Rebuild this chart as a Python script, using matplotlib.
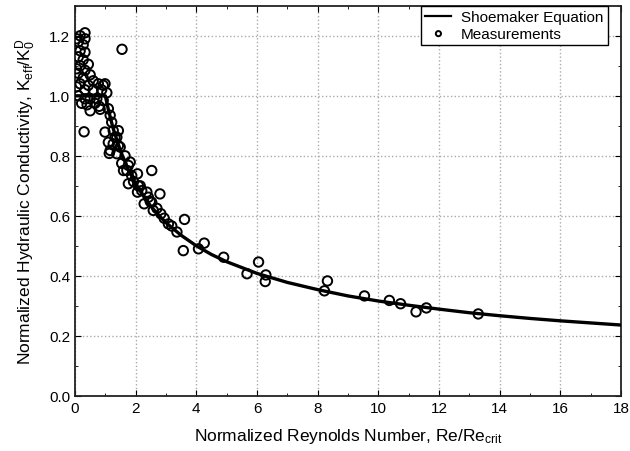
import matplotlib
matplotlib.use("Agg")
import matplotlib.pyplot as plt
from matplotlib.ticker import MultipleLocator

plt.rcParams['font.family'] = ['Liberation Sans', 'DejaVu Sans']
plt.rcParams['mathtext.default'] = 'regular'

# Shoemaker equation curve
curve_x = [0, 1.0, 1.1, 1.25, 1.5, 1.75, 2.0, 2.25, 2.5, 2.75, 3.0, 3.5, 4.0, 4.5,
           5.0, 6.0, 7.0, 8.0, 9.0, 10.0, 11.0, 12.0, 13.0, 14.0, 15.0, 16.0, 17.0, 18.0]
curve_y = [1.0, 1.0, 0.954, 0.894, 0.816, 0.756, 0.707, 0.667, 0.632, 0.603, 0.577,
           0.535, 0.50, 0.471, 0.447, 0.408, 0.378, 0.354, 0.333, 0.316, 0.302, 0.289,
           0.277, 0.267, 0.258, 0.25, 0.243, 0.236]

# measurements
meas_x = [0.05, 0.17, 0.33, 0.33, 0.11, 0.27, 0.17, 0.33, 0.11, 0.27, 0.44, 0.17,
          0.05, 0.33, 0.11, 0.50, 0.27, 0.60, 0.17, 0.44, 0.77, 0.93, 0.05, 0.33,
          0.60, 0.88, 1.05, 0.11, 0.33, 0.50, 0.72, 0.93, 0.22, 0.40, 0.66, 0.80,
          0.50, 0.83, 0.99, 1.10, 1.16, 1.21, 0.99, 1.26, 1.10, 1.38, 1.16, 1.49,
          1.43, 1.32, 1.26, 1.43, 1.38, 1.13, 1.55, 0.30,
          1.65, 1.54, 1.60, 1.71, 1.76, 1.82, 1.87, 1.76, 1.93, 2.06, 2.09, 2.15,
          2.06, 2.37, 2.20, 2.28, 2.42, 2.48, 2.53, 2.80, 2.53, 2.58, 2.70, 2.83,
          2.94, 3.08, 3.19, 3.36, 3.61, 3.57, 4.07, 4.26, 4.90, 5.67, 6.05, 6.29,
          6.27, 8.32, 8.22, 9.54, 10.36, 10.73, 11.24, 11.58, 13.29]
meas_y = [1.19, 1.20, 1.21, 1.19, 1.18, 1.17, 1.15, 1.145, 1.13, 1.12, 1.105, 1.10,
          1.09, 1.085, 1.075, 1.07, 1.06, 1.05, 1.04, 1.035, 1.04, 1.035, 1.03, 1.02,
          1.02, 1.02, 1.01, 1.00, 0.99, 0.99, 0.99, 0.985, 0.975, 0.97, 0.975, 0.965,
          0.95, 0.955, 1.04, 0.957, 0.935, 0.912, 0.879, 0.884, 0.845, 0.862, 0.818, 0.829,
          0.884, 0.862, 0.84, 0.834, 0.807, 0.808, 1.155, 0.88,
          0.80, 0.775, 0.751, 0.751, 0.768, 0.779, 0.734, 0.707, 0.714, 0.74, 0.70, 0.70,
          0.679, 0.679, 0.684, 0.64, 0.662, 0.648, 0.751, 0.673, 0.645, 0.618, 0.625, 0.607,
          0.592, 0.573, 0.566, 0.546, 0.588, 0.484, 0.49, 0.509, 0.462, 0.407, 0.446, 0.403,
          0.381, 0.383, 0.35, 0.333, 0.318, 0.307, 0.28, 0.293, 0.273]

fig = plt.figure(figsize=(6.3, 4.52), dpi=100)
ax = fig.add_axes([0.119, 0.122, 0.867, 0.863])

ax.scatter(meas_x, meas_y, s=46, facecolors='none', edgecolors='black',
           linewidths=1.4, zorder=3, label='Measurements')
ax.plot(curve_x, curve_y, color='black', lw=2.4, zorder=4, label='Shoemaker Equation')

ax.set_xlim(0, 18)
ax.set_ylim(0, 1.3)
ax.xaxis.set_major_locator(MultipleLocator(2))
ax.xaxis.set_minor_locator(MultipleLocator(1))
ax.yaxis.set_major_locator(MultipleLocator(0.2))
ax.yaxis.set_minor_locator(MultipleLocator(0.1))
ax.yaxis.set_major_formatter(plt.FormatStrFormatter('%.1f'))
ax.tick_params(which='both', direction='in', top=True, right=True, labelsize=11)
ax.tick_params(which='major', length=4)
ax.tick_params(which='minor', length=2)
ax.grid(True, which='major', linestyle=':', color='#aaaaaa', lw=1.0)
for s in ax.spines.values():
    s.set_linewidth(1.3)
    s.set_color('#222222')

ax.set_xlabel('Normalized Reynolds Number, Re/Re$_{crit}$', fontsize=12.5, labelpad=8)
ax.set_ylabel('Normalized Hydraulic Conductivity, K$_{eff}$/K$_0^D$', fontsize=12.5, labelpad=8)

handles, labels = ax.get_legend_handles_labels()
leg = ax.legend(handles[::-1], labels[::-1], loc='upper right', bbox_to_anchor=(0.975, 1.0),
                borderaxespad=0, fontsize=11, fancybox=False, framealpha=1,
                edgecolor='black', handlelength=1.7, labelspacing=0.15,
                borderpad=0.3, handletextpad=0.6, markerscale=0.55)
leg.get_frame().set_linewidth(1.0)
leg.get_lines()[0].set_linewidth(1.6)

fig.savefig('out.png', dpi=100)
